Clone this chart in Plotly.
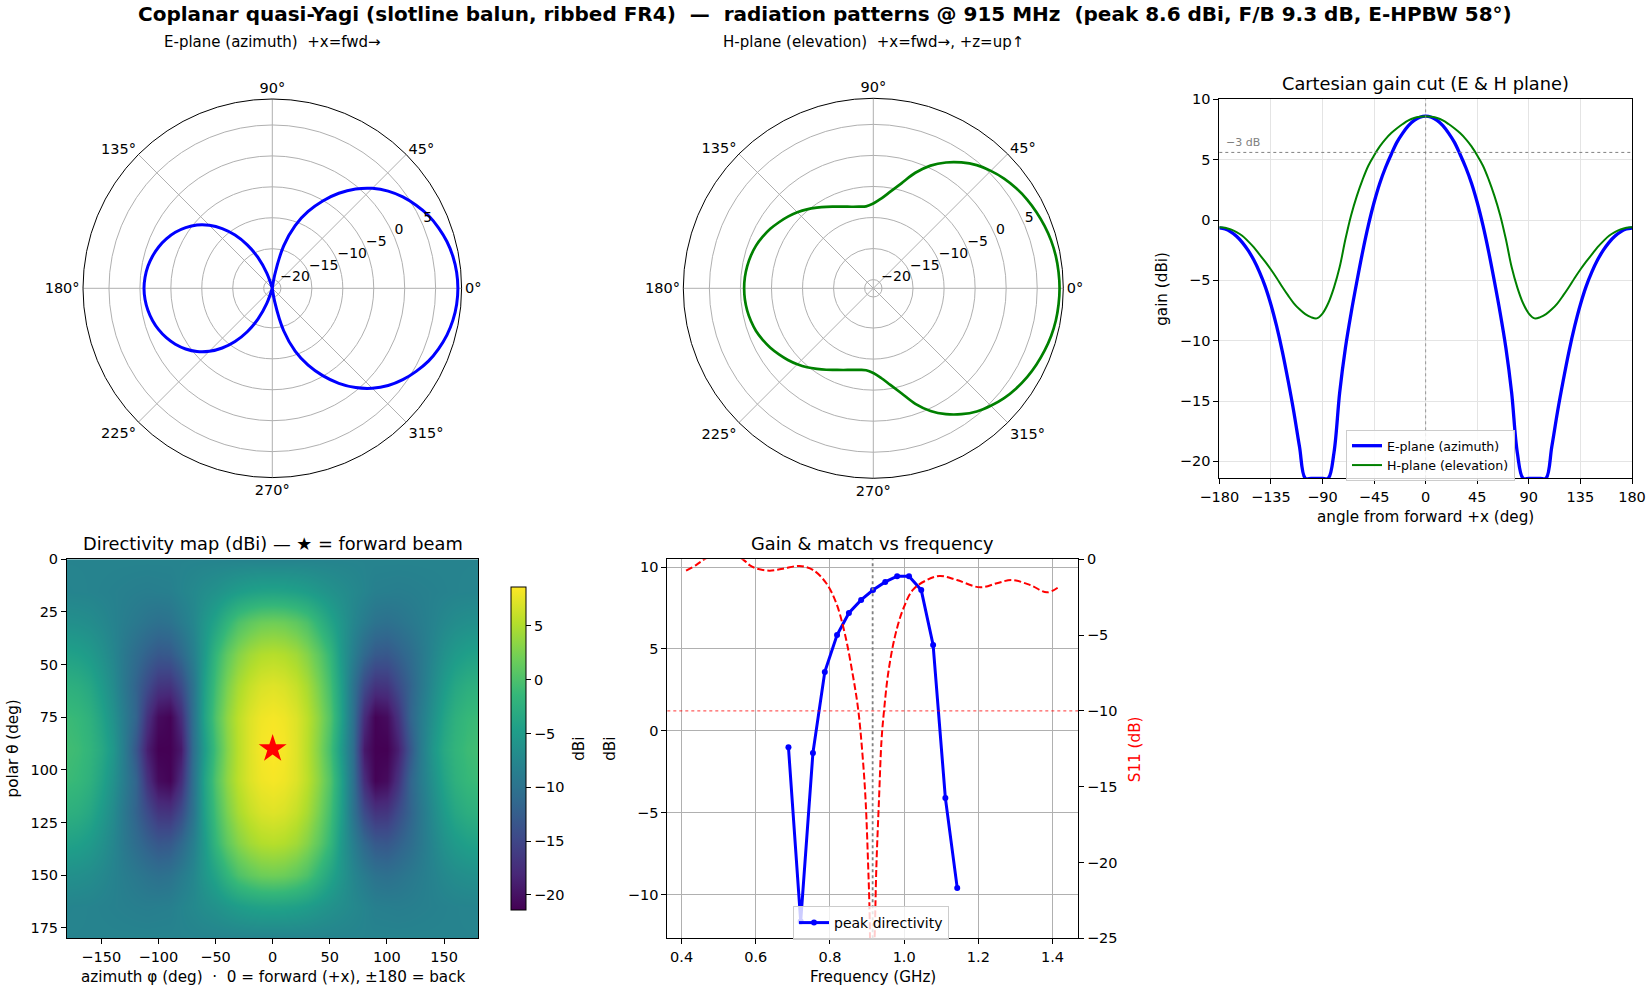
import plotly.graph_objects as go

# ---------------- data ----------------
# E / H plane cuts, angle from forward +x (deg), gain in dBi
cut_angle = list(range(-180, 185, 5))
e_plane_db = [-0.66, -0.75, -0.98, -1.35, -1.85, -2.5, -3.3, -4.3, -5.5, -7.0, -8.8, -10.9,
              -13.3, -15.9, -18.8, -21.4, -21.4, -21.4, -21.4, -21.4, -19.3, -14.3, -10.6, -7.7,
              -5.1, -2.65, -0.45, 1.45, 3.05, 4.35, 5.45, 6.45, 7.2, 7.82, 8.25, 8.51,
              8.6,
              8.51, 8.25, 7.82, 7.2, 6.45, 5.45, 4.35, 3.05, 1.45, -0.45, -2.65, -5.1,
              -7.7, -10.6, -14.3, -19.3, -21.4, -21.4, -21.4, -21.4, -21.4, -18.8, -15.9, -13.3,
              -10.9, -8.8, -7.0, -5.5, -4.3, -3.3, -2.5, -1.85, -1.35, -0.98, -0.75, -0.66]
h_plane_db = [-0.6, -0.64, -0.78, -1.0, -1.3, -1.75, -2.25, -2.85, -3.45, -4.1, -4.8, -5.55,
              -6.25, -6.9, -7.4, -7.8, -8.05, -8.15, -7.75, -6.9, -5.6, -3.9, -1.6, 0.4,
              2.0, 3.35, 4.5, 5.35, 6.1, 6.7, 7.2, 7.6, 7.95, 8.25, 8.45, 8.55,
              8.6,
              8.55, 8.45, 8.25, 7.95, 7.6, 7.2, 6.7, 6.1, 5.35, 4.5, 3.35, 2.0,
              0.4, -1.6, -3.9, -5.6, -6.9, -7.75, -8.15, -8.05, -7.8, -7.4, -6.9, -6.25,
              -5.55, -4.8, -4.1, -3.45, -2.85, -2.25, -1.75, -1.3, -1.0, -0.78, -0.64, -0.6]

peak_dbi = 8.6
floor_dbi = -21.4
ring_ticks = [-20, -15, -10, -5, 0, 5]

# directivity map: rows = polar theta, columns = azimuth phi
map_phi = list(range(-180, 190, 10))
map_theta = list(range(0, 195, 15))
row_t0 = [-7.9] * 37
row_t15 = [-7.8, -7.85, -7.9, -8.05, -8.2, -8.35, -8.5, -8.6, -8.5, -8.4, -7.8, -7.3, -6.7,
           -6.15, -5.5, -4.9, -4.45, -4.2, -4.1, -4.2, -4.45, -4.9, -5.5, -6.15, -6.7, -7.3,
           -7.8, -8.4, -8.5, -8.6, -8.5, -8.35, -8.2, -8.05, -7.9, -7.85, -7.8]
row_t30 = [-6.4, -6.5, -6.8, -7.3, -8.0, -8.7, -9.3, -9.9, -10.3, -10.0, -8.9, -7.6, -5.7,
           -3.9, -1.8, 0.0, 1.1, 1.8, 2.0, 1.8, 1.1, 0.0, -1.8, -3.9, -5.7, -7.6,
           -8.9, -10.0, -10.3, -9.9, -9.3, -8.7, -8.0, -7.3, -6.8, -6.5, -6.4]
row_t45 = [-4.3, -4.55, -5.2, -6.2, -7.6, -9.3, -10.8, -12.1, -13.1, -12.9, -11.2, -8.5, -5.3,
           -1.5, 1.1, 3.0, 4.35, 5.1, 5.35, 5.1, 4.35, 3.0, 1.1, -1.5, -5.3, -8.5,
           -11.2, -12.9, -13.1, -12.1, -10.8, -9.3, -7.6, -6.2, -5.2, -4.55, -4.3]
row_t60 = [-2.4, -2.7, -3.6, -5.1, -7.0, -9.4, -11.9, -14.4, -16.6, -16.8, -14.4, -9.9, -4.6,
           -0.5, 2.5, 4.65, 6.05, 6.9, 7.2, 6.9, 6.05, 4.65, 2.5, -0.5, -4.6, -9.9,
           -14.4, -16.8, -16.6, -14.4, -11.9, -9.4, -7.0, -5.1, -3.6, -2.7, -2.4]
row_t75 = [-1.05, -1.4, -2.35, -4.0, -6.2, -8.8, -11.8, -17.0, -20.5, -21.2, -17.5, -10.2, -4.2,
           0.35, 3.45, 5.6, 7.1, 7.95, 8.25, 7.95, 7.1, 5.6, 3.45, 0.35, -4.2, -10.2,
           -17.5, -21.2, -20.5, -17.0, -11.8, -8.8, -6.2, -4.0, -2.35, -1.4, -1.05]
row_t90 = [-0.66, -0.98, -1.85, -3.3, -5.5, -8.8, -13.3, -18.8, -21.4, -21.4, -19.3, -10.6, -5.1,
           -0.45, 3.05, 5.45, 7.2, 8.25, 8.6, 8.25, 7.2, 5.45, 3.05, -0.45, -5.1, -10.6,
           -19.3, -21.4, -21.4, -18.8, -13.3, -8.8, -5.5, -3.3, -1.85, -0.98, -0.66]
map_db = [row_t0, row_t15, row_t30, row_t45, row_t60, row_t75, row_t90,
          row_t75, row_t60, row_t45, row_t30, row_t15, row_t0]
beam_phi, beam_theta = 0, 90

# gain & match vs frequency
d_freq = [0.688, 0.721, 0.754, 0.786, 0.819, 0.851, 0.884, 0.916, 0.949, 0.981,
          1.013, 1.046, 1.078, 1.111, 1.143]
d_peak = [-1.0, -11.65, -1.35, 3.6, 5.85, 7.2, 8.0, 8.6, 9.1, 9.45, 9.45, 8.6, 5.25, -4.1, -9.6]
s11_freq = [0.412, 0.439, 0.461, 0.487, 0.513, 0.540, 0.565, 0.583, 0.600, 0.637,
            0.673, 0.718, 0.754, 0.790, 0.817, 0.840, 0.862, 0.876, 0.888, 0.896,
            0.903, 0.907, 0.912, 0.919, 0.921, 0.925, 0.932, 0.939, 0.946, 0.957,
            0.975, 0.997, 1.024, 1.061, 1.096, 1.142, 1.205, 1.250, 1.290, 1.340,
            1.385, 1.418]
s11_db = [-0.75, -0.38, 0.0, 0.3, 0.4, 0.3, 0.0, -0.38, -0.59, -0.75,
          -0.62, -0.44, -0.7, -1.58, -2.9, -4.9, -7.7, -9.9, -13.0, -15.9,
          -20.3, -23.6, -34.0, -26.0, -24.4, -20.3, -15.9, -11.9, -9.9, -7.5,
          -5.1, -3.3, -2.0, -1.37, -1.1, -1.37, -1.85, -1.58, -1.37, -1.7,
          -2.18, -1.8]
f0_ghz = 0.915

W, H = 1650, 990
FONT = 'DejaVu Sans'


def px(x):
    return x / W


def py(y):
    return 1 - y / H


def frame(**kw):
    # matplotlib-like boxed axis
    ax = dict(showline=True, linecolor='black', linewidth=1, mirror=True, automargin=False,
              ticks='outside', ticklen=5, tickcolor='black', zeroline=False,
              tickfont=dict(size=14.5, color='black'))
    ax.update(kw)
    return ax


fig = go.Figure()

# polar cuts
fig.add_trace(go.Scatterpolar(r=e_plane_db, theta=cut_angle, mode='lines', subplot='polar',
                              line=dict(color='blue', width=3, shape='spline'), showlegend=False))
fig.add_trace(go.Scatterpolar(r=h_plane_db, theta=cut_angle, mode='lines', subplot='polar2',
                              line=dict(color='green', width=2.7, shape='spline'), showlegend=False))
# radial labels, matplotlib style (left/bottom anchored at 22.5 deg)
for sp in ('polar', 'polar2'):
    fig.add_trace(go.Scatterpolar(r=ring_ticks, theta=[22.5] * len(ring_ticks), mode='text',
                                  text=[f'{v}'.replace('-', '−') for v in ring_ticks],
                                  textposition='top right', textfont=dict(size=14, color='black'),
                                  subplot=sp, showlegend=False, cliponaxis=False, hoverinfo='skip'))

# cartesian cut
fig.add_trace(go.Scatter(x=cut_angle, y=e_plane_db, mode='lines', name='E-plane (azimuth)',
                         line=dict(color='blue', width=3.3, shape='spline'),
                         xaxis='x', yaxis='y', legend='legend'))
fig.add_trace(go.Scatter(x=cut_angle, y=h_plane_db, mode='lines', name='H-plane (elevation)',
                         line=dict(color='green', width=2, shape='spline'),
                         xaxis='x', yaxis='y', legend='legend'))

# directivity map
fig.add_trace(go.Heatmap(x=map_phi, y=map_theta, z=map_db, colorscale='Viridis',
                         zmin=floor_dbi, zmax=peak_dbi, zsmooth='best',
                         xaxis='x2', yaxis='y2',
                         colorbar=dict(x=px(510.5), xanchor='left', y=py(748.5), yanchor='middle',
                                       len=323 / H, thickness=15, xpad=0, ypad=0,
                                       outlinecolor='black', outlinewidth=1,
                                       ticks='outside', ticklen=5, tickcolor='black',
                                       tickvals=[-20, -15, -10, -5, 0, 5],
                                       tickfont=dict(size=14.5, color='black'))))
fig.add_trace(go.Scatter(x=[beam_phi], y=[beam_theta], mode='markers',
                         marker=dict(symbol='star', size=21, color='red'),
                         xaxis='x2', yaxis='y2', showlegend=False))

# frequency sweep
fig.add_trace(go.Scatter(x=s11_freq, y=s11_db, mode='lines', showlegend=False,
                         line=dict(color='red', width=2, dash='7px,3px', shape='spline'),
                         xaxis='x3', yaxis='y4'))
fig.add_trace(go.Scatter(x=d_freq, y=d_peak, mode='lines+markers', name='peak directivity',
                         line=dict(color='blue', width=3), marker=dict(size=6, color='blue'),
                         xaxis='x3', yaxis='y3', legend='legend2'))

polar_common = dict(
    bgcolor='white',
    radialaxis=dict(range=[floor_dbi, 9.2], tickvals=ring_ticks, angle=22.5,
                    showline=False, ticks='', showticklabels=False,
                    gridcolor='#b0b0b0', gridwidth=1),
    angularaxis=dict(tickmode='array', tickvals=list(range(0, 360, 45)),
                     ticktext=[f'{a}°' for a in range(0, 360, 45)],
                     direction='counterclockwise', rotation=0, gridcolor='#b0b0b0',
                     showline=True, linecolor='black', linewidth=1, ticks='',
                     tickfont=dict(size=14.5, color='black')),
)

annots = [
    dict(text='<b>Coplanar quasi-Yagi (slotline balun, ribbed FR4)\u00a0 —\u00a0 radiation patterns @ 915 MHz'
              '\u00a0 (peak 8.6 dBi, F/B 9.3 dB, E-HPBW 58°)</b>',
         x=0.5, y=py(14), font=dict(size=20)),
    dict(text='E-plane (azimuth)\u00a0 +x=fwd→', x=px(272.3), y=py(42), font=dict(size=15)),
    dict(text='H-plane (elevation)\u00a0 +x=fwd→, +z=up↑', x=px(873.3), y=py(42), font=dict(size=15)),
    dict(text='Cartesian gain cut (E & H plane)', x=px(1425.6), y=py(83.3), font=dict(size=17.8)),
    dict(text='Directivity map (dBi) — ★ = forward beam', x=px(272.7), y=py(543.3), font=dict(size=17.8)),
    dict(text='Gain & match vs frequency', x=px(872.7), y=py(543.3), font=dict(size=17.8)),
    dict(text='angle from forward +x (deg)', x=px(1425.6), y=py(517), font=dict(size=15.2)),
    dict(text='gain (dBi)', x=px(1162), y=py(288.8), textangle=-90, font=dict(size=15.2)),
    dict(text='polar θ (deg)', x=px(12.6), y=py(748.8), textangle=-90, font=dict(size=15.2)),
    dict(text='azimuth φ (deg)\u00a0 ·\u00a0 0 = forward (+x), ±180 = back', x=px(272.7), y=py(977),
         font=dict(size=15.2)),
    dict(text='dBi', x=px(579), y=py(748.8), textangle=-90, font=dict(size=15.2)),
    dict(text='dBi', x=px(610), y=py(748.8), textangle=-90, font=dict(size=15.2)),
    dict(text='Frequency (GHz)', x=px(872.7), y=py(977), font=dict(size=15.2)),
    dict(text='S11 (dB)', x=px(1134.4), y=py(748.8), textangle=-90, font=dict(size=15.2, color='red')),
]
for a in annots:
    a.update(xref='paper', yref='paper', showarrow=False, xanchor='center', yanchor='middle')
    a['font'].setdefault('color', 'black')
annots.append(dict(text='−3 dB', x=-176, y=peak_dbi - 3 + 0.8, xref='x', yref='y', showarrow=False,
                   xanchor='left', yanchor='middle', font=dict(size=11, color='gray')))

shapes = [
    dict(type='line', xref='x', yref='y domain', x0=0, x1=0, y0=0, y1=1,
         line=dict(color='gray', width=0.8, dash='dot')),
    dict(type='line', xref='x domain', yref='y', x0=0, x1=1, y0=peak_dbi - 3, y1=peak_dbi - 3,
         line=dict(color='gray', width=1, dash='dot')),
    dict(type='line', xref='x3', yref='y3 domain', x0=f0_ghz, x1=f0_ghz, y0=0, y1=1,
         line=dict(color='gray', width=1.8, dash='dot')),
    dict(type='line', xref='x3 domain', yref='y4', x0=0, x1=1, y0=-10, y1=-10,
         line=dict(color='red', width=0.8, dash='dot')),
]

legend_common = dict(xanchor='left', yanchor='top', bgcolor='rgba(255,255,255,0.8)',
                     bordercolor='#cccccc', borderwidth=1, tracegroupgap=0)

fig.update_layout(
    width=W, height=H, autosize=False,
    margin=dict(l=0, r=0, t=0, b=0, pad=0, autoexpand=False),
    paper_bgcolor='white', plot_bgcolor='white',
    font=dict(family=FONT, size=14, color='black'),
    polar=dict(domain=dict(x=[px(83), px(461.6)], y=[py(477.6), py(99)]), **polar_common),
    polar2=dict(domain=dict(x=[px(683.3), px(1063.3)], y=[py(478.3), py(98.3)]), **polar_common),
    xaxis=frame(domain=[px(1219.3), px(1632)], anchor='y', range=[-180, 180],
                tickmode='array', tickvals=list(range(-180, 181, 45)),
                showgrid=True, gridcolor='#e4e4e4'),
    yaxis=frame(domain=[py(478.3), py(99.3)], anchor='x', range=[floor_dbi, 10],
                tickmode='array', tickvals=[-20, -15, -10, -5, 0, 5, 10],
                showgrid=True, gridcolor='#e4e4e4'),
    xaxis2=frame(domain=[px(67), px(478.3)], anchor='y2', range=[-180, 180],
                 tickmode='array', tickvals=[-150, -100, -50, 0, 50, 100, 150], showgrid=False),
    yaxis2=frame(domain=[py(938.3), py(559.3)], anchor='x2', range=[180, 0],
                 tickmode='array', tickvals=list(range(0, 180, 25)), showgrid=False),
    xaxis3=frame(domain=[px(667.3), px(1078)], anchor='y3', range=[0.3614, 1.4686],
                 tickmode='array', tickvals=[0.4, 0.6, 0.8, 1.0, 1.2, 1.4], tickformat='.1f',
                 showgrid=True, gridcolor='#b0b0b0'),
    yaxis3=frame(domain=[py(938.3), py(559.3)], anchor='x3', range=[-12.68, 10.48],
                 tickmode='array', tickvals=[-10, -5, 0, 5, 10], mirror=False,
                 showgrid=True, gridcolor='#b0b0b0'),
    yaxis4=frame(overlaying='y3', side='right', anchor='x3', range=[-25, 0],
                 tickmode='array', tickvals=[-25, -20, -15, -10, -5, 0], mirror=False,
                 showgrid=False),
    legend=dict(x=px(1346), y=py(430), font=dict(size=12.6), **legend_common),
    legend2=dict(x=px(793), y=py(906), font=dict(size=14), **legend_common),
    annotations=annots,
    shapes=shapes,
)

fig.write_html("out.html", config={'displayModeBar': False},
               post_script="document.body.style.margin='0px';")
